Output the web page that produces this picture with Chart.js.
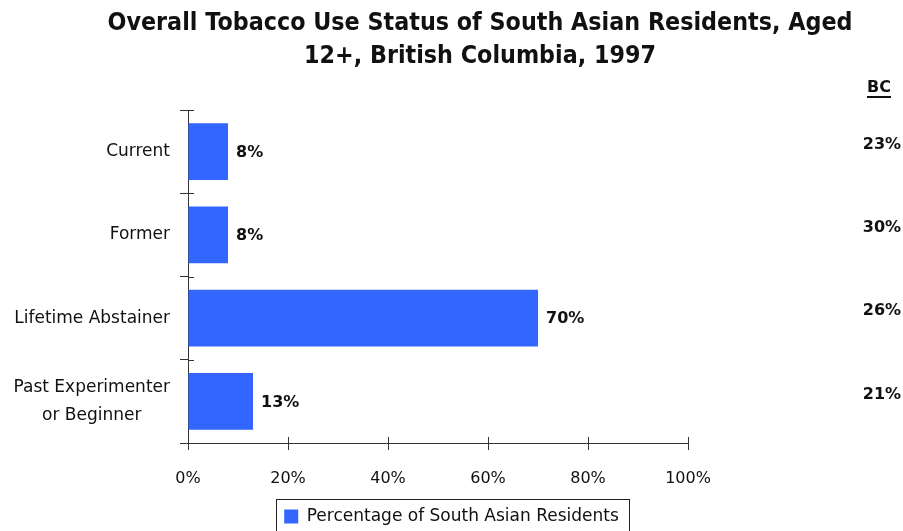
<!DOCTYPE html>
<html>
<head>
<meta charset="utf-8">
<script src="https://cdn.jsdelivr.net/npm/chart.js@4.4.0/dist/chart.umd.min.js"></script>
<style>
  html, body { margin: 0; padding: 0; background: #fff; }
  #wrap { width: 903px; height: 531px; }
</style>
</head>
<body>
<div id="wrap"><canvas id="c" width="903" height="531"></canvas></div>
<script>
// Tobacco use status, South Asian residents vs. BC overall
const categories = ['Current', 'Former', 'Lifetime Abstainer', ['Past Experimenter', 'or Beginner']];
const southAsianPct = [8, 8, 70, 13];
const bcPct = [23, 30, 26, 21];
const xTicks = [0, 20, 40, 60, 80, 100];
const titleLines = ['Overall Tobacco Use Status of South Asian Residents, Aged', '12+, British Columbia, 1997'];
const seriesLabel = 'Percentage of South Asian Residents';
const bcHeader = 'BC';

const FONT = '"DejaVu Sans", sans-serif';
const AXIS = '#333333';
const INK = '#111111';

// Title, category labels, value labels, BC column, inner tick halves, legend frame
const decorations = {
  id: 'decorations',
  afterDraw(chart) {
    const ctx = chart.ctx;
    const x = chart.scales.x, y = chart.scales.y;
    const area = chart.chartArea;
    ctx.save();

    // title: tall, narrow bold face
    ctx.fillStyle = INK;
    ctx.font = 'bold 25px ' + FONT;
    ctx.textAlign = 'center';
    ctx.textBaseline = 'middle';
    const squeeze = 745 / ctx.measureText(titleLines[0]).width;
    titleLines.forEach((t, i) => {
      ctx.save();
      ctx.translate(480, 23 + i * 33);
      ctx.scale(squeeze, 1);
      ctx.fillText(t, 0, 0);
      ctx.restore();
    });

    // inner halves of the axis tick marks
    ctx.strokeStyle = AXIS;
    ctx.lineWidth = 1;
    const n = categories.length;
    const band = (y.bottom - y.top) / n;
    for (let i = 0; i <= n; i++) {
      const py = Math.round(y.top + i * band) + 0.5;
      ctx.beginPath(); ctx.moveTo(area.left, py); ctx.lineTo(area.left + 6, py); ctx.stroke();
    }
    xTicks.forEach(v => {
      const px = Math.round(x.getPixelForValue(v)) + 0.5;
      ctx.beginPath(); ctx.moveTo(px, area.bottom); ctx.lineTo(px, area.bottom - 6); ctx.stroke();
    });

    // category labels (multi-line label centered as a block)
    ctx.font = '17px ' + FONT;
    ctx.fillStyle = INK;
    ctx.textBaseline = 'middle';
    ctx.textAlign = 'center';
    const labelRight = area.left - 18;
    categories.forEach((lab, i) => {
      const lines = Array.isArray(lab) ? lab : [lab];
      const w = Math.max(...lines.map(l => ctx.measureText(l).width));
      const cy = y.getPixelForValue(i);
      const lh = 28;
      lines.forEach((l, j) => {
        ctx.fillText(l, labelRight - w / 2, cy + (j - (lines.length - 1) / 2) * lh);
      });
    });

    // value labels at bar ends
    ctx.font = 'bold 16px ' + FONT;
    ctx.textAlign = 'left';
    southAsianPct.forEach((v, i) => {
      ctx.fillText(v + '%', x.getPixelForValue(v) + 8, y.getPixelForValue(i) + 1);
    });

    // BC comparison column
    ctx.textAlign = 'center';
    const bcX = 882;
    bcPct.forEach((v, i) => {
      ctx.fillText(v + '%', bcX, y.getPixelForValue(i) - 7);
    });
    ctx.fillText(bcHeader, 879, 88);
    const hw = ctx.measureText(bcHeader).width;
    ctx.fillRect(879 - hw / 2, 96, hw, 2);

    // legend frame
    const lg = chart.legend;
    if (lg && lg.legendHitBoxes && lg.legendHitBoxes.length) {
      const hb = lg.legendHitBoxes[0];
      ctx.strokeStyle = '#222';
      ctx.lineWidth = 1;
      ctx.strokeRect(Math.round(hb.left - 8) + 0.5, Math.round(hb.top - 9) + 0.5,
                     Math.round(hb.width + 18), 60);
    }
    ctx.restore();
  }
};

new Chart(document.getElementById('c'), {
  type: 'bar',
  data: {
    labels: categories,
    datasets: [{
      label: seriesLabel,
      data: southAsianPct,
      backgroundColor: '#3366FF',
      borderWidth: 0,
      categoryPercentage: 1,
      barPercentage: 0.68
    }]
  },
  options: {
    indexAxis: 'y',
    responsive: false,
    animation: false,
    layout: { padding: { top: 110, right: 0, left: 0, bottom: -4 } },
    plugins: {
      title: { display: false },
      tooltip: { enabled: false },
      legend: {
        display: true,
        position: 'bottom',
        labels: {
          color: INK,
          font: { family: FONT, size: 17 },
          boxWidth: 14,
          boxHeight: 14,
          padding: 10
        }
      }
    },
    scales: {
      x: {
        min: 0, max: 100,
        afterBuildTicks(scale) { scale.ticks = xTicks.map(v => ({ value: v })); },
        afterFit(scale) { scale.height = 55; },
        grid: { drawOnChartArea: false, color: AXIS, tickLength: 7 },
        border: { color: AXIS },
        ticks: {
          color: INK,
          font: { family: FONT, size: 16 },
          padding: 19,
          callback: v => v + '%'
        }
      },
      y: {
        offset: true,
        afterFit(scale) { scale.width = 188; },
        grid: { offset: true, drawOnChartArea: false, color: AXIS, tickLength: 8 },
        border: { color: AXIS },
        ticks: { display: false }
      },
      // right-hand gutter that holds the BC comparison column
      bcGutter: {
        type: 'category',
        axis: 'y',
        position: 'right',
        labels: categories,
        afterFit(scale) { scale.width = 215; },
        grid: { display: false },
        border: { display: false },
        ticks: { display: false }
      }
    }
  },
  plugins: [decorations]
});
</script>
</body>
</html>
